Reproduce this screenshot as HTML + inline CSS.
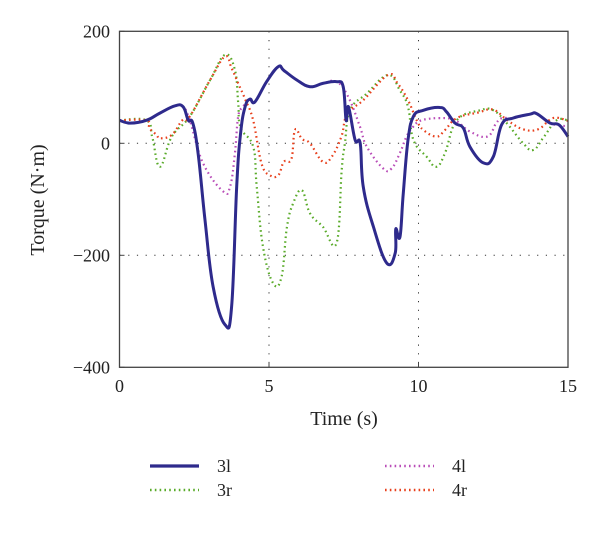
<!DOCTYPE html>
<html><head><meta charset="utf-8"><style>
body{margin:0;background:#fff}
svg{display:block;font-family:"Liberation Serif",serif}
</style></head><body>
<svg id="chart" width="600" height="537" viewBox="0 0 600 537" xmlns="http://www.w3.org/2000/svg"></svg>
<script>
const xTicks=[0,5,10,15];
const yTicks=[200,0,-200,-400];
const gridX=[5,10];
const gridY=[0,-200];
const t3l=[0,0.35,0.9,1.35,1.86,2.13,2.3,2.45,2.63,2.86,3.13,3.53,3.75,3.92,4.05,4.2,4.36,4.53,4.92,5.31,5.5,5.93,6.37,6.8,7.26,7.48,7.58,7.66,7.88,8.05,8.15,8.49,8.94,9.22,9.24,9.38,9.49,9.65,9.83,10.16,10.72,10.94,11.22,11.5,11.72,12.17,12.5,12.78,13.16,13.73,13.95,14.4,14.7,15];
const v3l=[41,36,41,54,67,65,41,36,-18,-137,-256,-324,-292,-77,18,65,79,74,110,137,130,113,101,107,110,101,41,65,6,0,-77,-149,-214,-196,-153,-167,-89,6,48,59,64,56,36,27,-6,-35,-24,33,45,52,53,36,33,12];
const t3r=[0,0.9,1.1,1.35,1.75,2.35,3.03,3.53,3.86,3.97,4.05,4.47,4.59,4.8,5.14,5.42,5.6,5.81,6.1,6.37,6.8,7.26,7.43,7.54,7.71,8.27,8.98,9.37,9.65,9.83,10.27,10.6,10.89,11.28,12.06,12.5,12.95,13.5,13.84,14.2,14.62,15];
const v3r=[41,41,10,-42,12,48,113,158,131,72,28,-6,-77,-185,-250,-238,-150,-107,-84,-125,-149,-178,-48,0,59,89,122,95,65,6,-24,-42,-17,41,59,59,36,0,-12,12,41,41];
const t4l=[0,0.35,0.9,1.35,1.86,2.13,2.35,2.8,3.47,3.7,3.86,3.97,4.13,4.36,4.53,4.92,5.31,5.5,5.93,6.37,6.8,7.26,7.65,8.04,8.27,8.82,9.1,9.38,9.6,9.83,10.1,10.7,11.22,11.72,12.3,12.6,12.8,13.16,13.73,13.95,14.4,15];
const v4l=[41,36,41,54,67,65,41,-36,-86,-77,-18,48,65,79,74,110,137,130,113,101,107,110,83,30,-6,-45,-45,-17,12,30,41,45,41,21,12,36,45,45,52,53,36,30];
const t4r=[0,0.9,1.0,1.24,1.35,1.75,2.1,2.35,3.03,3.53,3.75,3.97,4.2,4.47,4.75,5.03,5.31,5.5,5.75,5.87,6.1,6.37,6.8,7.1,7.42,7.62,8.15,8.98,9.3,9.65,9.94,10.16,10.6,10.89,11.28,12,12.5,13,13.5,14,14.5,15];
const v4r=[41,41,27,15,9,15,41,48,113,155,134,107,79,41,-36,-57,-57,-33,-28,24,8,0,-33,-24,12,53,77,122,107,77,41,24,12,24,45,55,60,40,25,25,45,40];

const L=119.5,R=568,T=31.3,B=367.3;
const xs=t=>L+(t-0)/15*(R-L);
const ys=v=>B-(v+400)/600*(B-T);
const svg=document.getElementById('chart');
const NS='http://www.w3.org/2000/svg';
function mk(tag,a){const e=document.createElementNS(NS,tag);for(const k in a)e.setAttribute(k,a[k]);svg.appendChild(e);return e;}

gridX.forEach(g=>{const e=mk('line',{x1:xs(g),x2:xs(g),y1:T,y2:B,stroke:'#333','stroke-width':1,'stroke-dasharray':'1.2 7.5'});

});
gridY.forEach(g=>{const e=mk('line',{x1:L,x2:R,y1:ys(g),y2:ys(g),stroke:'#333','stroke-width':1,'stroke-dasharray':'1.2 7.5'});

});

function smoothPath(ts,vs){
  const p=ts.map((t,i)=>[xs(t),ys(vs[i])]);
  let d='M'+p[0][0].toFixed(1)+','+p[0][1].toFixed(1);
  const k=0.2;
  for(let i=0;i<p.length-1;i++){
    const p0=p[i-1]||p[i],p1=p[i],p2=p[i+1],p3=p[i+2]||p2;
    const c1=[p1[0]+(p2[0]-p0[0])*k,p1[1]+(p2[1]-p0[1])*k];
    const c2=[p2[0]-(p3[0]-p1[0])*k,p2[1]-(p3[1]-p1[1])*k];
    d+='C'+c1[0].toFixed(1)+','+c1[1].toFixed(1)+' '+c2[0].toFixed(1)+','+c2[1].toFixed(1)+' '+p2[0].toFixed(1)+','+p2[1].toFixed(1);
  }
  return d;
}
function series(ts,vs,color,w,dash,name){
  const a={d:smoothPath(ts,vs),fill:'none',stroke:color,'stroke-width':w,'stroke-linejoin':'round'};
  if(dash)a['stroke-dasharray']=dash;
  const e=mk('path',a);
  
  
}
series(t3r,v3r,'#5aab2a',2.2,'1.6 3.2','series-3r');
series(t4l,v4l,'#b94db8',2.2,'1.6 3.2','series-4l');
series(t4r,v4r,'#e8401c',2.2,'1.6 3.2','series-4r');
series(t3l,v3l,'#2e2a8c',3,null,'series-3l');

const box=mk('rect',{x:L,y:T,width:R-L,height:B-T,fill:'none',stroke:'#444','stroke-width':1.3});



xTicks.forEach(t=>{const e=mk('text',{x:xs(t),y:392,'text-anchor':'middle','font-size':18,fill:'#222'});e.textContent=t;


const k=mk('line',{x1:xs(t),x2:xs(t),y1:B,y2:B-5,stroke:'#444'});

});
yTicks.forEach(v=>{const e=mk('text',{x:110,y:ys(v)+6,'text-anchor':'end','font-size':18,fill:'#222'});e.textContent=v<0?'\u2212'+(-v):v;


const k=mk('line',{x1:L,x2:L+5,y1:ys(v),y2:ys(v),stroke:'#444'});

});

const xt=mk('text',{x:344,y:425,'text-anchor':'middle','font-size':20,fill:'#222'});xt.textContent='Time (s)';


const yt=mk('text',{x:0,y:0,transform:'translate(44,200) rotate(-90)','text-anchor':'middle','font-size':20,fill:'#222'});yt.textContent='Torque (N\u00b7m)';



const legend=[['3l','#2e2a8c',150,466,null,3.2],['3r','#5aab2a',150,490,'1.6 3.2',2.4],['4l','#b94db8',385,466,'1.6 3.2',2.4],['4r','#e8401c',385,490,'1.6 3.2',2.4]];
legend.forEach(([n,c,x,y,dash,w])=>{
  const a={x1:x,x2:x+49,y1:y,y2:y,stroke:c,'stroke-width':w};if(dash)a['stroke-dasharray']=dash;
  const l=mk('line',a);
  
  
  const t=mk('text',{x:x+67,y:y+6,'font-size':18,fill:'#222'});t.textContent=n;
  
  
});
</script>
</body></html>
